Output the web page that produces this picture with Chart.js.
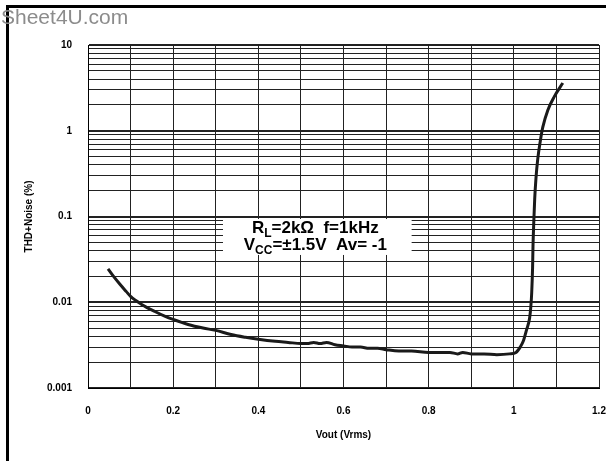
<!DOCTYPE html>
<html>
<head>
<meta charset="utf-8">
<script src="https://cdn.jsdelivr.net/npm/chart.js@4.4.1/dist/chart.umd.min.js"></script>
<style>
    body { margin: 0; overflow: hidden; background: #fff; width: 606px; height: 461px; }
    #wrap { position: absolute; left: 0; top: 0; width: 630px; height: 461px; }
    #frame { position: absolute; left: 6px; top: 5px; width: 700px; height: 500px;
             border-top: 3px solid #000; border-left: 3px solid #000; }
    #marca { position: absolute; left: 1px; top: 5px; font: 21px "Liberation Sans", Arial, sans-serif;
             color: #8c8c8c; }
</style>
</head>
<body>
<div id="frame"></div>
<div id="wrap"><canvas id="grafico"></canvas></div>
<div id="marca">Sheet4U.com</div>
<script>
// Vout (Vrms)
var vout = [0.047, 0.06, 0.075, 0.09, 0.10, 0.125, 0.157, 0.18, 0.20, 0.235,
    0.27, 0.30, 0.336, 0.37, 0.40, 0.44, 0.47, 0.50, 0.515, 0.53,
    0.545, 0.56, 0.58, 0.60, 0.62, 0.64, 0.66, 0.68, 0.70, 0.73,
    0.76, 0.80, 0.82, 0.85, 0.868, 0.88, 0.90, 0.93, 0.96, 0.99,
    1.005, 1.015, 1.022, 1.030, 1.037, 1.040, 1.042, 1.044, 1.045, 1.047,
    1.049, 1.052, 1.056, 1.062, 1.068, 1.08, 1.095, 1.115];
// THD+Noise (%)
var thd = [0.0245, 0.020, 0.0162, 0.0133, 0.0117, 0.0095, 0.0078, 0.0069, 0.0063, 0.0055,
    0.0050, 0.0047, 0.0042, 0.0039, 0.0037, 0.0035, 0.0034, 0.0033, 0.0033, 0.0034,
    0.0033, 0.0034, 0.0032, 0.0031, 0.0030, 0.0030, 0.0029, 0.0029, 0.0028, 0.0027,
    0.0027, 0.0026, 0.0026, 0.0026, 0.0025, 0.0026, 0.0025, 0.0025, 0.00245, 0.0025,
    0.0026, 0.0030, 0.0035, 0.0048, 0.0065, 0.009, 0.013, 0.025, 0.045, 0.09,
    0.16, 0.28, 0.46, 0.75, 1.1, 1.75, 2.5, 3.6];

var decadas = [0.001, 0.01, 0.1, 1, 10];
var rotulosX = [0, 0.2, 0.4, 0.6, 0.8, 1, 1.2];

var pontos = vout.map(function (v, i) { return { x: v, y: thd[i] }; });

var fonteNegrito = { family: '"Liberation Sans", Arial, sans-serif', weight: 'bold', size: 10 };

// caixa de texto com as condições do ensaio
var caixaTexto = {
    id: 'caixaTexto',
    afterDatasetsDraw: function (chart) {
        var ctx = chart.ctx;
        var sx = chart.scales.x, sy = chart.scales.y;
        var x1 = sx.getPixelForValue(0.317), x2 = sx.getPixelForValue(0.76);
        var y1 = sy.getPixelForValue(0.0935), y2 = sy.getPixelForValue(0.0356);
        ctx.save();
        ctx.fillStyle = '#fff';
        ctx.fillRect(x1, y1, x2 - x1, y2 - y1);
        ctx.fillStyle = '#000';
        ctx.textBaseline = 'alphabetic';
        var f = 'bold 17px "Liberation Sans", Arial, sans-serif';
        var fs = 'bold 12px "Liberation Sans", Arial, sans-serif';
        function linha(partes, xc, y) {
            var total = 0;
            partes.forEach(function (p) { ctx.font = p[1] ? fs : f; total += ctx.measureText(p[0]).width; });
            var x = xc - total / 2;
            partes.forEach(function (p) {
                ctx.font = p[1] ? fs : f;
                ctx.fillText(p[0], x, p[1] ? y + 4 : y);
                x += ctx.measureText(p[0]).width;
            });
        }
        var xc = (x1 + x2) / 2 - 2;
        linha([['R', false], ['L', true], ['=2k\u03A9  f=1kHz', false]], xc, y1 + 14);
        linha([['V', false], ['CC', true], ['=\u00B11.5V  Av= -1', false]], xc, y1 + 31);
        ctx.restore();
    }
};

new Chart(document.getElementById('grafico'), {
    type: 'line',
    data: {
        datasets: [{
            data: pontos,
            borderColor: '#1a1a1a',
            borderWidth: 3,
            pointRadius: 0,
            cubicInterpolationMode: 'monotone',
            fill: false
        }]
    },
    options: {
        responsive: true,
        maintainAspectRatio: false,
        animation: false,
        layout: { padding: { left: 0, top: 45, right: 31, bottom: 0 } },
        plugins: { legend: { display: false }, tooltip: { enabled: false } },
        scales: {
            x: {
                type: 'linear',
                min: 0,
                max: 1.2,
                afterFit: function (s) { s.height = 73; },
                afterBuildTicks: function (s) {
                    var t = [];
                    for (var i = 0; i <= 12; i++) t.push({ value: i / 10 });
                    s.ticks = t;
                },
                ticks: {
                    autoSkip: false,
                    maxRotation: 0,
                    padding: 17,
                    color: '#000',
                    font: fonteNegrito,
                    callback: function (v) {
                        var r = Math.round(v * 10) / 10;
                        return rotulosX.indexOf(r) >= 0 ? String(r) : '';
                    }
                },
                grid: { color: '#222', lineWidth: 1, drawTicks: false },
                border: { color: '#000', width: 1 },
                title: { display: true, text: 'Vout (Vrms)', color: '#000', font: fonteNegrito, padding: { top: 0, bottom: 20 } }
            },
            y: {
                type: 'logarithmic',
                min: 0.001,
                max: 10,
                afterFit: function (s) { s.width = 88; },
                afterBuildTicks: function (s) {
                    var t = [];
                    decadas.forEach(function (d, i) {
                        if (i === decadas.length - 1) { t.push({ value: d, major: true }); return; }
                        for (var m = 1; m <= 9; m++) t.push({ value: d * m, major: m === 1 });
                    });
                    s.ticks = t;
                },
                ticks: {
                    autoSkip: false,
                    padding: 16,
                    color: '#000',
                    font: fonteNegrito,
                    callback: function (v) {
                        for (var i = 0; i < decadas.length; i++) {
                            if (Math.abs(v - decadas[i]) < decadas[i] * 1e-6) return String(decadas[i]);
                        }
                        return '';
                    }
                },
                grid: {
                    color: '#222',
                    drawTicks: false,
                    lineWidth: function (c) { return c.tick && c.tick.major ? 2 : 1; }
                },
                border: { color: '#000', width: 1 },
                title: { display: true, text: 'THD+Noise (%)', color: '#000', font: fonteNegrito, padding: { top: 23, bottom: 0 } }
            }
        }
    },
    plugins: [caixaTexto]
});
</script>
</body>
</html>
